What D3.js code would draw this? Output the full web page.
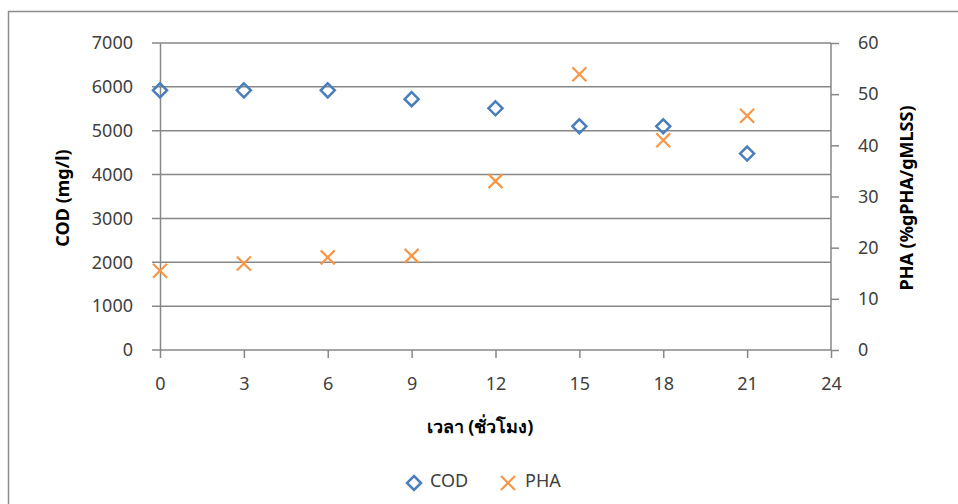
<!DOCTYPE html>
<html>
<head>
<meta charset="utf-8">
<script src="https://cdn.jsdelivr.net/npm/d3@7"></script>
<style>
  html, body { margin: 0; padding: 0; background: #fff; }
  svg { display: block; }
</style>
</head>
<body>
<div id="chart"></div>
<script>
(function () {
  'use strict';

  // ── Data ──
  var hours = [0, 3, 6, 9, 12, 15, 18, 21];
  var codValues = [5920, 5920, 5920, 5720, 5510, 5100, 5100, 4480];
  var phaValues = [15.5, 16.9, 18.1, 18.4, 33.0, 53.9, 41.0, 45.8];
  var xTicks = [0, 3, 6, 9, 12, 15, 18, 21, 24];
  var codTicks = [0, 1000, 2000, 3000, 4000, 5000, 6000, 7000];
  var phaTicks = [0, 10, 20, 30, 40, 50, 60];

  // ── Constants ──
  var WIDTH = 958;
  var HEIGHT = 504;
  var PLOT = { left: 160, right: 831, top: 43, bottom: 350 };
  var GRID_COLOR = '#878787';
  var COD_COLOR = '#4a7ebb';
  var PHA_COLOR = '#f79646';
  var FONT = '"Noto Sans", "Open Sans", sans-serif';
  var TICK_SIZE = '18px';
  var TITLE_SIZE = '18px';

  var svg = d3.select('#chart').append('svg')
    .attr('width', WIDTH)
    .attr('height', HEIGHT);

  // outer chart border
  svg.append('rect')
    .attr('x', 8.5).attr('y', 11.5)
    .attr('width', 1000).attr('height', 600)
    .attr('fill', 'none')
    .attr('stroke', '#8c8c8c')
    .attr('stroke-width', 1.5);

  var x = d3.scaleLinear().domain([0, 24]).range([PLOT.left, PLOT.right]);
  var yCod = d3.scaleLinear().domain([0, 7000]).range([PLOT.bottom, PLOT.top]);
  var yPha = d3.scaleLinear().domain([0, 60]).range([PLOT.bottom, PLOT.top]);

  // ── Gridlines ──
  svg.append('g')
    .selectAll('line')
    .data(codTicks)
    .join('line')
    .attr('x1', PLOT.left - 8)
    .attr('x2', PLOT.right)
    .attr('y1', function (d) { return yCod(d); })
    .attr('y2', function (d) { return yCod(d); })
    .attr('stroke', GRID_COLOR)
    .attr('stroke-width', 1.5);

  // ── Left axis ──
  var leftAxis = svg.append('g')
    .attr('transform', 'translate(' + PLOT.left + ',0)')
    .call(d3.axisLeft(yCod).tickValues(codTicks).tickFormat(d3.format('d'))
      .tickSize(0).tickPadding(27));
  leftAxis.select('.domain').attr('stroke', GRID_COLOR).attr('stroke-width', 1.5);

  // ── Right axis ──
  var rightAxis = svg.append('g')
    .attr('transform', 'translate(' + PLOT.right + ',0)')
    .call(d3.axisRight(yPha).tickValues(phaTicks).tickSize(8).tickPadding(19));
  rightAxis.select('.domain').attr('stroke', GRID_COLOR).attr('stroke-width', 1.5)
    .attr('d', 'M0,' + PLOT.top + 'V' + PLOT.bottom);

  // ── Bottom axis ──
  var bottomAxis = svg.append('g')
    .attr('transform', 'translate(0,' + PLOT.bottom + ')')
    .call(d3.axisBottom(x).tickValues(xTicks).tickSize(8).tickPadding(19));
  bottomAxis.select('.domain').remove();

  [leftAxis, rightAxis, bottomAxis].forEach(function (ax) {
    ax.selectAll('.tick line').attr('stroke', GRID_COLOR).attr('stroke-width', 1.5);
    ax.selectAll('.tick text')
      .attr('fill', '#404040')
      .style('font-family', FONT)
      .style('font-size', TICK_SIZE);
  });

  // ── Axis titles ──
  function title(sel) {
    return sel
      .attr('text-anchor', 'middle')
      .style('font-family', FONT)
      .style('font-size', TITLE_SIZE)
      .style('font-weight', 'bold')
      .attr('fill', '#000');
  }

  svg.append('text')
    .attr('transform', 'translate(69,198) rotate(-90)')
    .call(title)
    .text('COD (mg/l)');

  svg.append('text')
    .attr('transform', 'translate(913,198) rotate(-90)')
    .call(title)
    .text('PHA (%gPHA/gMLSS)');

  svg.append('text')
    .attr('x', 480)
    .attr('y', 433)
    .call(title)
    .text('เวลา (ชั่วโมง)');

  // ── Markers ──
  var diamond = 'M0,-7L7,0L0,7L-7,0Z';
  var cross = 'M-7,-7L7,7M-7,7L7,-7';

  svg.append('g')
    .selectAll('path')
    .data(hours)
    .join('path')
    .attr('transform', function (d, i) {
      return 'translate(' + x(d) + ',' + yCod(codValues[i]) + ')';
    })
    .attr('d', diamond)
    .attr('fill', 'none')
    .attr('stroke', COD_COLOR)
    .attr('stroke-width', 2.5);

  svg.append('g')
    .selectAll('path')
    .data(hours)
    .join('path')
    .attr('transform', function (d, i) {
      return 'translate(' + x(d) + ',' + yPha(phaValues[i]) + ')';
    })
    .attr('d', cross)
    .attr('fill', 'none')
    .attr('stroke', PHA_COLOR)
    .attr('stroke-width', 2.2);

  // ── Legend ──
  var legend = svg.append('g').attr('transform', 'translate(0,481)');
  legend.append('path')
    .attr('transform', 'translate(414,2)')
    .attr('d', diamond)
    .attr('fill', 'none')
    .attr('stroke', COD_COLOR)
    .attr('stroke-width', 2.5);
  legend.append('text')
    .attr('x', 430).attr('y', 6)
    .style('font-family', FONT).style('font-size', TICK_SIZE)
    .attr('fill', '#404040')
    .text('COD');
  legend.append('path')
    .attr('transform', 'translate(508,2)')
    .attr('d', cross)
    .attr('fill', 'none')
    .attr('stroke', PHA_COLOR)
    .attr('stroke-width', 2.2);
  legend.append('text')
    .attr('x', 525).attr('y', 6)
    .style('font-family', FONT).style('font-size', TICK_SIZE)
    .attr('fill', '#404040')
    .text('PHA');
})();
</script>
</body>
</html>
